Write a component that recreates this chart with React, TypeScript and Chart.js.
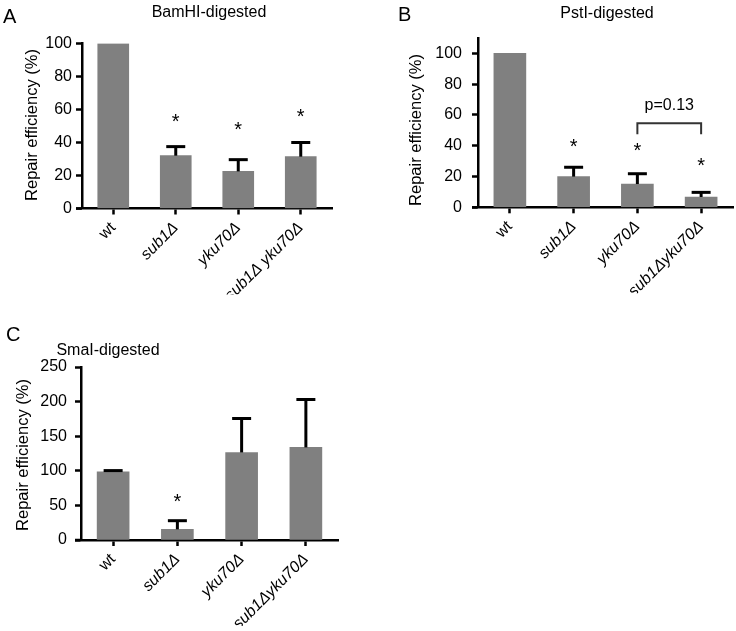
import React, { useEffect, useRef } from 'react';
import { Chart, registerables } from 'chart.js';

Chart.register(...registerables);

const FONT = '"Liberation Sans", Arial, Helvetica, sans-serif';

// ---------- data ----------
const labelsA = ['wt', 'sub1Δ', 'yku70Δ', 'sub1Δ yku70Δ'];
const labelsBC = ['wt', 'sub1Δ', 'yku70Δ', 'sub1Δyku70Δ'];

const bamValues = [100, 32, 22.5, 31.4];
const bamErrTop = [null, 37.5, 29.6, 40];
const bamStars = [null, 54.8, 50.2, 57.8];
const bamTicks = { max: 100, step: 20 };

const pstValues = [100, 19.9, 15.1, 6.7];
const pstErrTop = [null, 26, 21.8, 9.7];
const pstStars = [null, 41.8, 39, 29.5];
const pstTicks = { max: 110, step: 20 };
const pstBracket = { from: 2, to: 3, top: 54.5, leg: 47.5, label: 'p=0.13', labelValue: 66 };

const smaValues = [98.5, 15.4, 126.5, 133.8];
const smaErrTop = [100.3, 27.9, 175.6, 203];
const smaStars = [null, 60, null, null];
const smaTicks = { max: 250, step: 50 };

type Bracket = { from: number; to: number; top: number; leg: number; label: string; labelValue: number };

type PanelSpec = {
  left: number; top: number; width: number; height: number;
  axisX: number; axisRight: number; yTopPx: number; yZeroPx: number;
  yMax: number; yStep: number; yTickPad: number;
  labels: string[]; values: number[]; errTop: (number | null)[]; stars: (number | null)[];
  barWidth: number;
  title: string; titleX: number; titleBase: number;
  letter: string; letterX: number; letterBase: number;
  yTitleX: number; yTitleY: number;
  bracket?: Bracket;
};

const XH = 86;

function Panel({ spec }: { spec: PanelSpec }) {
  const ref = useRef<HTMLCanvasElement | null>(null);
  useEffect(() => {
    const canvas = ref.current;
    if (!canvas) return;
    const s = spec;
    const decor = {
      id: 'decor',
      afterDraw(chart: any) {
        const ctx = chart.ctx;
        const ys = chart.scales.y;
        const meta = chart.getDatasetMeta(0);
        ctx.save();
        // x-axis extension to the left of y-axis
        ctx.strokeStyle = '#000';
        ctx.lineWidth = 2.5;
        ctx.beginPath();
        const yb = ys.getPixelForValue(0);
        ctx.moveTo(chart.chartArea.left - 6, yb);
        ctx.lineTo(chart.chartArea.left, yb);
        ctx.stroke();
        // error bars (upper only)
        ctx.lineWidth = 3;
        ctx.lineCap = 'butt';
        s.values.forEach((v, i) => {
          const e = s.errTop[i];
          if (e == null) return;
          const x = meta.data[i].x;
          const y0 = ys.getPixelForValue(v);
          const y1 = ys.getPixelForValue(e);
          ctx.beginPath();
          ctx.moveTo(x, y0);
          ctx.lineTo(x, y1);
          ctx.stroke();
          ctx.beginPath();
          ctx.moveTo(x - 9.5, y1);
          ctx.lineTo(x + 9.5, y1);
          ctx.stroke();
        });
        // stars
        ctx.fillStyle = '#000';
        ctx.font = `20px ${FONT}`;
        ctx.textAlign = 'center';
        ctx.textBaseline = 'alphabetic';
        const m = ctx.measureText('*');
        const asc = m.actualBoundingBoxAscent;
        const desc = m.actualBoundingBoxDescent;
        s.stars.forEach((st, i) => {
          if (st == null) return;
          const x = meta.data[i].x;
          const y = ys.getPixelForValue(st);
          ctx.fillText('*', x, y + (asc - desc) / 2);
        });
        // bracket
        if (s.bracket) {
          const b = s.bracket;
          const xa = meta.data[b.from].x;
          const xb = meta.data[b.to].x;
          const yt = ys.getPixelForValue(b.top);
          const yl = ys.getPixelForValue(b.leg);
          ctx.strokeStyle = '#333';
          ctx.lineWidth = 2;
          ctx.beginPath();
          ctx.moveTo(xa, yl);
          ctx.lineTo(xa, yt);
          ctx.lineTo(xb, yt);
          ctx.lineTo(xb, yl);
          ctx.stroke();
          ctx.font = `16px ${FONT}`;
          ctx.textBaseline = 'middle';
          ctx.fillStyle = '#000';
          ctx.fillText(b.label, (xa + xb) / 2, ys.getPixelForValue(b.labelValue));
        }
        // y title
        ctx.save();
        ctx.translate(s.yTitleX - s.left, s.yTitleY - s.top);
        ctx.rotate(-Math.PI / 2);
        ctx.font = `16.5px ${FONT}`;
        ctx.textAlign = 'center';
        ctx.textBaseline = 'middle';
        ctx.fillText('Repair efficiency (%)', 0, 0);
        ctx.restore();
        // panel title
        ctx.font = `16px ${FONT}`;
        ctx.textAlign = 'center';
        ctx.textBaseline = 'alphabetic';
        ctx.fillText(s.title, s.titleX - s.left, s.titleBase - s.top);
        // letter
        ctx.font = `20px ${FONT}`;
        ctx.textAlign = 'left';
        ctx.fillText(s.letter, s.letterX - s.left, s.letterBase - s.top);
        ctx.restore();
      },
    };

    const chart = new Chart(canvas, {
      type: 'bar',
      data: {
        labels: s.labels,
        datasets: [{ data: s.values, backgroundColor: '#808080', borderWidth: 0, barThickness: s.barWidth }],
      },
      options: {
        animation: false,
        responsive: false,
        maintainAspectRatio: false,
        layout: {
          padding: {
            left: 0,
            top: s.yTopPx - s.top,
            right: s.left + s.width - s.axisRight,
            bottom: Math.max(0, s.height - (s.yZeroPx - s.top) - XH),
          },
        },
        plugins: { legend: { display: false }, tooltip: { enabled: false }, title: { display: false } },
        scales: {
          x: {
            offset: true,
            grid: { offset: false, drawOnChartArea: false, tickLength: 6, tickWidth: 2.5, tickColor: '#000' },
            border: { display: true, width: 2.5, color: '#000' },
            ticks: {
              autoSkip: false,
              minRotation: 45,
              maxRotation: 45,
              padding: 4,
              color: '#000',
              font: (c: any) => ({ family: FONT, size: 16, style: c.index === 0 ? 'normal' : 'italic' }),
            },
            afterFit: (sc: any) => { sc.height = XH; },
          },
          y: {
            min: 0,
            max: s.yMax,
            ticks: { stepSize: s.yStep, includeBounds: false, padding: s.yTickPad, color: '#000', font: { family: FONT, size: 16 } },
            grid: { drawOnChartArea: false, tickLength: 6, tickWidth: 2.5, tickColor: '#000' },
            border: { display: true, width: 2.5, color: '#000' },
            afterFit: (sc: any) => { sc.width = s.axisX - s.left; },
          },
        },
      } as any,
      plugins: [decor],
    });
    return () => chart.destroy();
  }, [spec]);
  return (
    <canvas
      ref={ref}
      width={spec.width}
      height={spec.height}
      style={{ position: 'absolute', left: spec.left, top: spec.top, width: spec.width, height: spec.height }}
    />
  );
}

const specA: PanelSpec = {
  left: 0, top: 0, width: 368, height: 300,
  axisX: 82, axisRight: 332, yTopPx: 43.5, yZeroPx: 208.5,
  yMax: bamTicks.max, yStep: bamTicks.step, yTickPad: 4,
  labels: labelsA, values: bamValues, errTop: bamErrTop, stars: bamStars, barWidth: 31,
  title: 'BamHI-digested', titleX: 209, titleBase: 17,
  letter: 'A', letterX: 3, letterBase: 23,
  yTitleX: 32, yTitleY: 125,
};

const specB: PanelSpec = {
  left: 368, top: 0, width: 368, height: 300,
  axisX: 478, axisRight: 733, yTopPx: 37.9, yZeroPx: 207.3,
  yMax: pstTicks.max, yStep: pstTicks.step, yTickPad: 10,
  labels: labelsBC, values: pstValues, errTop: pstErrTop, stars: pstStars, barWidth: 32,
  title: 'PstI-digested', titleX: 607, titleBase: 17.5,
  letter: 'B', letterX: 398, letterBase: 21,
  yTitleX: 416, yTitleY: 130,
  bracket: pstBracket,
};

const specC: PanelSpec = {
  left: 0, top: 300, width: 368, height: 331,
  axisX: 81, axisRight: 338, yTopPx: 367, yZeroPx: 540,
  yMax: smaTicks.max, yStep: smaTicks.step, yTickPad: 8,
  labels: labelsBC, values: smaValues, errTop: smaErrTop, stars: smaStars, barWidth: 32,
  title: 'SmaI-digested', titleX: 108, titleBase: 355,
  letter: 'C', letterX: 6, letterBase: 341,
  yTitleX: 23.5, yTitleY: 455,
};

export default function App() {
  return (
    <div style={{ position: 'absolute', left: 0, top: 0, width: 736, height: 631, background: '#fff' }}>
      <Panel spec={specA} />
      <Panel spec={specB} />
      <Panel spec={specC} />
    </div>
  );
}
